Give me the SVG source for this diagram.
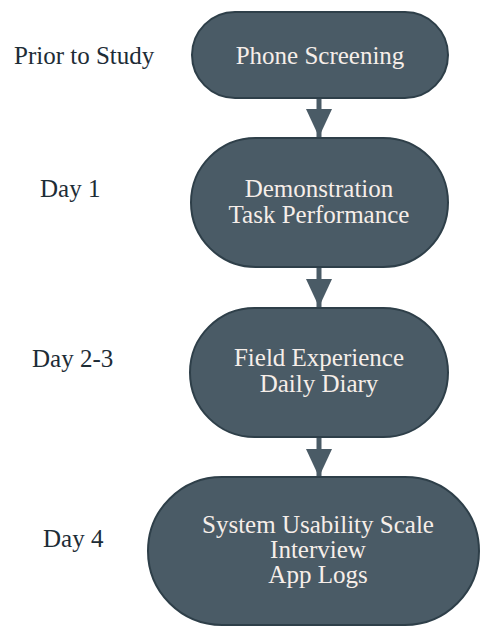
<svg xmlns="http://www.w3.org/2000/svg" width="486" height="631" viewBox="0 0 486 631">
<style>
.node{fill:#4a5b66;stroke:#2e3f49;stroke-width:2}
.nt{font-family:"Liberation Serif","Times New Roman",serif;font-size:25px;fill:#f6eee9;text-anchor:middle}
.lb{font-family:"Liberation Serif","Times New Roman",serif;font-size:25px;fill:#1d2c36}
.edge{stroke:#4a5b66;stroke-width:5;fill:none}
</style>
<defs>
<marker id="ah" markerUnits="userSpaceOnUse" markerWidth="30" markerHeight="26" refX="28" refY="13" orient="auto">
<path d="M0,0 L28,13 L0,26 Z" fill="#4a5b66"/>
</marker>
</defs>
<rect width="486" height="631" fill="#ffffff"/>
<g id="labels">
<text class="lb" x="14" y="64">Prior to Study</text>
<text class="lb" x="40" y="197">Day 1</text>
<text class="lb" x="32" y="367">Day 2-3</text>
<text class="lb" x="43" y="547">Day 4</text>
</g>
<g id="connectors">
<path class="edge" d="M319,98 L319,137" marker-end="url(#ah)"/>
<path class="edge" d="M319,267 L319,307" marker-end="url(#ah)"/>
<path class="edge" d="M319,437 L319,477" marker-end="url(#ah)"/>
</g>
<g id="n1">
<rect class="node" x="192" y="12" width="256" height="86" rx="43" ry="43"/>
<text class="nt" x="320" y="64">Phone Screening</text>
</g>
<g id="n2">
<rect class="node" x="191" y="138" width="257" height="129" rx="64.5" ry="64.5"/>
<text class="nt" x="319" y="197">Demonstration</text>
<text class="nt" x="319" y="223">Task Performance</text>
</g>
<g id="n3">
<rect class="node" x="190" y="308" width="258" height="129" rx="64.5" ry="64.5"/>
<text class="nt" x="319" y="366">Field Experience</text>
<text class="nt" x="319" y="392">Daily Diary</text>
</g>
<g id="n4">
<rect class="node" x="148" y="477" width="331" height="148" rx="74" ry="74"/>
<text class="nt" x="318" y="533">System Usability Scale</text>
<text class="nt" x="318" y="558">Interview</text>
<text class="nt" x="318" y="583">App Logs</text>
</g>
</svg>
